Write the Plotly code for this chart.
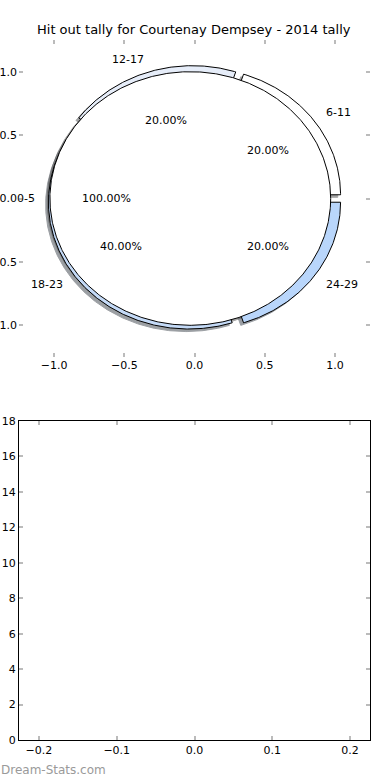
import numpy as np
import plotly.graph_objects as go

# ---- data ----
title = "Hit out tally for Courtenay Dempsey - 2014 tally"
outer_labels = ["6-11", "12-17", "18-23", "24-29"]
outer_values = [1, 1, 2, 1]
outer_colors = ["#ffffff", "#e6edf9", "#c4daf7", "#b9d6fb"]
inner_labels = ["0-5"]
inner_values = [1]
inner_colors = ["#ffffff"]
pie_ticks = [-1.0, -0.5, 0.0, 0.5, 1.0]
bar_xticks = [-0.2, -0.1, 0.0, 0.1, 0.2]
bar_yticks = list(range(0, 19, 2))

OUTER_EXPLODE = 0.05
INNER_EXPLODE = 0.03
SHADOW_OFF = -0.02
FONT = "DejaVu Sans"


def wedges(values, explode):
    total = float(sum(values))
    out = []
    cum = 0.0
    for v in values:
        t1 = 360.0 * cum / total
        cum += v
        t2 = 360.0 * cum / total
        tm = np.deg2rad((t1 + t2) / 2)
        cx, cy = explode * np.cos(tm), explode * np.sin(tm)
        out.append((t1, t2, tm, cx, cy, v / total))
    return out


def poly(t1, t2, cx, cy, r=1.0, full=False):
    n = max(int(abs(t2 - t1) * 2), 8)
    th = np.deg2rad(np.linspace(t1, t2, n))
    xs = cx + r * np.cos(th)
    ys = cy + r * np.sin(th)
    if not full:
        xs = np.concatenate([[cx], xs, [cx]])
        ys = np.concatenate([[cy], ys, [cy]])
    return xs, ys


def shade(hexcol):
    h = hexcol.lstrip("#")
    r, g, b = (int(h[i:i + 2], 16) for i in (0, 2, 4))
    return "rgb(%d,%d,%d)" % (r * 0.3, g * 0.3, b * 0.3)


ow = wedges(outer_values, OUTER_EXPLODE)
iw = wedges(inner_values, INNER_EXPLODE)

fig = go.Figure()

# shadows first (drawn beneath all wedges)
for (t1, t2, tm, cx, cy, f), col in list(zip(ow, outer_colors)) + list(zip(iw, inner_colors)):
    full = (t2 - t1) >= 359.9
    xs, ys = poly(t1, t2, cx + SHADOW_OFF, cy + SHADOW_OFF, full=full)
    c = shade(col)
    fig.add_trace(go.Scatter(x=xs, y=ys, mode="lines", fill="toself", fillcolor=c,
                             line=dict(color=c, width=1), opacity=0.5,
                             hoverinfo="skip", xaxis="x", yaxis="y"))

# wedges
for (t1, t2, tm, cx, cy, f), col in list(zip(ow, outer_colors)) + list(zip(iw, inner_colors)):
    full = (t2 - t1) >= 359.9
    xs, ys = poly(t1, t2, cx, cy, full=full)
    fig.add_trace(go.Scatter(x=xs, y=ys, mode="lines", fill="toself", fillcolor=col,
                             line=dict(color="#000000", width=1),
                             hoverinfo="skip", xaxis="x", yaxis="y"))

annotations = []
for (t1, t2, tm, cx, cy, f), lab in list(zip(ow, outer_labels)) + list(zip(iw, inner_labels)):
    xt = cx + 1.1 * np.cos(tm)
    yt = cy + 1.1 * np.sin(tm)
    annotations.append(dict(x=xt, y=yt, xref="x", yref="y", text=lab, showarrow=False,
                            xanchor="left" if xt > 0 else "right", yanchor="middle",
                            borderpad=0, font=dict(family=FONT, size=11, color="#000")))
    xp = cx + 0.6 * np.cos(tm)
    yp = cy + 0.6 * np.sin(tm)
    annotations.append(dict(x=xp, y=yp, xref="x", yref="y", text="%.2f%%" % (f * 100),
                            showarrow=False, xanchor="center", yanchor="middle", borderpad=0,
                            font=dict(family=FONT, size=11, color="#000")))

annotations.append(dict(x=194 / 390, y=1 - 30 / 780, xref="paper", yref="paper", text=title,
                        showarrow=False, xanchor="center", yanchor="middle",
                        font=dict(family=FONT, size=13, color="#000")))
annotations.append(dict(x=0, y=1 - 770 / 780, xref="paper", yref="paper", text="Dream-Stats.com",
                        showarrow=False, xanchor="left", yanchor="middle", borderpad=0,
                        font=dict(family=FONT, size=12, color="#9a9a9a")))

# empty bottom panel trace (so axes render)
fig.add_trace(go.Scatter(x=[], y=[], xaxis="x2", yaxis="y2", hoverinfo="skip"))


def fmt(v):
    s = "%.1f" % v
    return s.replace("-", "\u2212")


tickfont = dict(family=FONT, size=11, color="#000")
common_ticks = dict(ticks="inside", ticklen=4, tickwidth=1.5, tickcolor="#bbbbbb",
                    showgrid=False, zeroline=False, tickfont=tickfont, automargin=False)

fig.update_layout(
    width=390, height=780, margin=dict(l=0, r=0, t=0, b=0, pad=0, autoexpand=False),
    paper_bgcolor="white", plot_bgcolor="white", showlegend=False,
    annotations=annotations,
    xaxis=dict(domain=[19 / 390, 370 / 390], range=[-1.25, 1.25], anchor="y",
               tickvals=pie_ticks, ticktext=[fmt(v) for v in pie_ticks],
               showline=False, mirror="allticks", **common_ticks),
    yaxis=dict(domain=[1 - 357 / 780, 1 - 40 / 780], range=[-1.25, 1.25], anchor="x",
               tickvals=pie_ticks, ticktext=[fmt(v) for v in pie_ticks],
               showline=False, mirror="allticks", ticklabelstandoff=1, **common_ticks),
    xaxis2=dict(domain=[19 / 390, 370 / 390], range=[-0.2257, 0.2257], anchor="y2",
                tickvals=bar_xticks, ticktext=[fmt(v) for v in bar_xticks],
                showline=True, linecolor="#000", linewidth=1.2, mirror="allticks", **common_ticks),
    yaxis2=dict(domain=[1 - 740 / 780, 1 - 421 / 780], range=[0, 18], anchor="x2",
                tickvals=bar_yticks, ticktext=[str(v) for v in bar_yticks],
                showline=True, linecolor="#000", linewidth=1.2, mirror="allticks", **common_ticks),
)

fig.write_html("out.html", config={"displayModeBar": False},
               post_script="document.body.style.margin='0';document.body.style.overflow='hidden';")
